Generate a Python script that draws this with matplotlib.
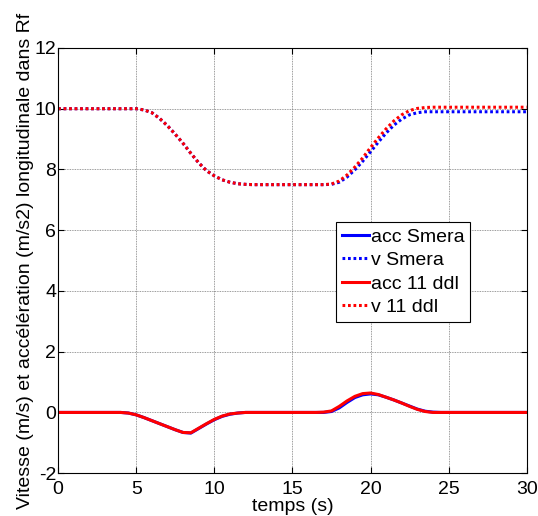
import matplotlib.pyplot as plt
import numpy as np

plt.rcParams['font.family'] = ['Liberation Sans', 'DejaVu Sans']
plt.rcParams['font.size'] = 14
plt.rcParams['axes.unicode_minus'] = False

# temps (s), echantillonne tous les 0.5 s
t = np.arange(0, 30.5, 0.5)

# vitesse 11 ddl (m/s)
v_11 = [10.0, 10.0, 10.0, 10.0, 10.0, 10.0, 10.0, 10.0, 10.0, 10.0,
        10.0, 9.96, 9.87, 9.68, 9.44, 9.16, 8.86, 8.53, 8.22, 7.96,
        7.79, 7.66, 7.58, 7.53, 7.51, 7.5, 7.5, 7.5, 7.5, 7.5,
        7.5, 7.5, 7.5, 7.5, 7.5, 7.52, 7.62, 7.82, 8.08, 8.38,
        8.72, 9.04, 9.34, 9.6, 9.8, 9.94, 10.01, 10.04, 10.05, 10.05,
        10.05, 10.05, 10.05, 10.05, 10.05, 10.05, 10.05, 10.05, 10.05, 10.05,
        10.05]
# vitesse Smera (m/s)
v_sm = [10.0, 10.0, 10.0, 10.0, 10.0, 10.0, 10.0, 10.0, 10.0, 10.0,
        10.0, 9.96, 9.87, 9.68, 9.44, 9.16, 8.86, 8.53, 8.22, 7.96,
        7.79, 7.66, 7.58, 7.53, 7.51, 7.5, 7.5, 7.5, 7.5, 7.5,
        7.5, 7.5, 7.5, 7.5, 7.5, 7.51, 7.58, 7.75, 7.99, 8.27,
        8.58, 8.9, 9.2, 9.46, 9.66, 9.8, 9.87, 9.9, 9.9, 9.9,
        9.9, 9.9, 9.9, 9.9, 9.9, 9.9, 9.9, 9.9, 9.9, 9.9,
        9.9]
# acceleration 11 ddl (m/s2)
a_11 = [0, 0, 0, 0, 0, 0, 0, 0, 0, -0.02,
        -0.08, -0.17, -0.27, -0.37, -0.47, -0.57, -0.66, -0.67, -0.52, -0.37,
        -0.23, -0.12, -0.05, -0.02, 0, 0, 0, 0, 0, 0,
        0, 0, 0, 0, 0.01, 0.05, 0.2, 0.38, 0.53, 0.62,
        0.64, 0.59, 0.5, 0.41, 0.31, 0.2, 0.1, 0.03, 0, 0,
        0, 0, 0, 0, 0, 0, 0, 0, 0, 0,
        0]
# acceleration Smera (m/s2)
a_sm = [0, 0, 0, 0, 0, 0, 0, 0, 0, -0.02,
        -0.08, -0.17, -0.27, -0.37, -0.47, -0.57, -0.66, -0.68, -0.53, -0.38,
        -0.24, -0.13, -0.06, -0.02, 0, 0, 0, 0, 0, 0,
        0, 0, 0, 0, 0, 0.03, 0.15, 0.33, 0.49, 0.58,
        0.61, 0.58, 0.5, 0.41, 0.31, 0.21, 0.11, 0.04, 0.01, 0,
        0, 0, 0, 0, 0, 0, 0, 0, 0, 0,
        0]

fig = plt.figure(figsize=(5.38, 5.16), dpi=100)
ax = fig.add_axes([0.108, 0.083, 0.871, 0.824])

ax.plot(t, a_sm, color='#0000ff', lw=2.2, label='acc Smera')
ax.plot(t, v_sm, color='#0000ff', lw=2.2, ls=(0, (0.9, 0.9)), label='v Smera')
ax.plot(t, a_11, color='#ff0000', lw=2.2, label='acc 11 ddl')
ax.plot(t, v_11, color='#ff0000', lw=2.2, ls=(0, (0.9, 0.9)), label='v 11 ddl')

ax.set_xlim(0, 30)
ax.set_ylim(-2, 12)
ax.set_xticks(np.arange(0, 31, 5))
ax.set_yticks(np.arange(-2, 13, 2))
ax.grid(True, color='#7a7a7a', lw=0.6, ls=(0, (1, 1)))
ax.tick_params(direction='in', top=True, right=True, length=4)
ax.tick_params(axis='x', pad=5.5)
ax.tick_params(axis='y', pad=1.5)
for s in ax.spines.values():
    s.set_linewidth(0.8)

ax.set_xlabel('temps (s)', labelpad=0)
ax.set_ylabel('Vitesse (m/s) et accélération (m/s2) longitudinale dans Rf', labelpad=0)

leg = ax.legend(loc='upper left', bbox_to_anchor=(0.593, 0.59), fancybox=False,
                edgecolor='black', framealpha=1, borderpad=0.3, labelspacing=0.3,
                handlelength=1.4, handletextpad=0.1, borderaxespad=0)
leg.get_frame().set_linewidth(0.8)

fig.savefig('out.png', dpi=100)
